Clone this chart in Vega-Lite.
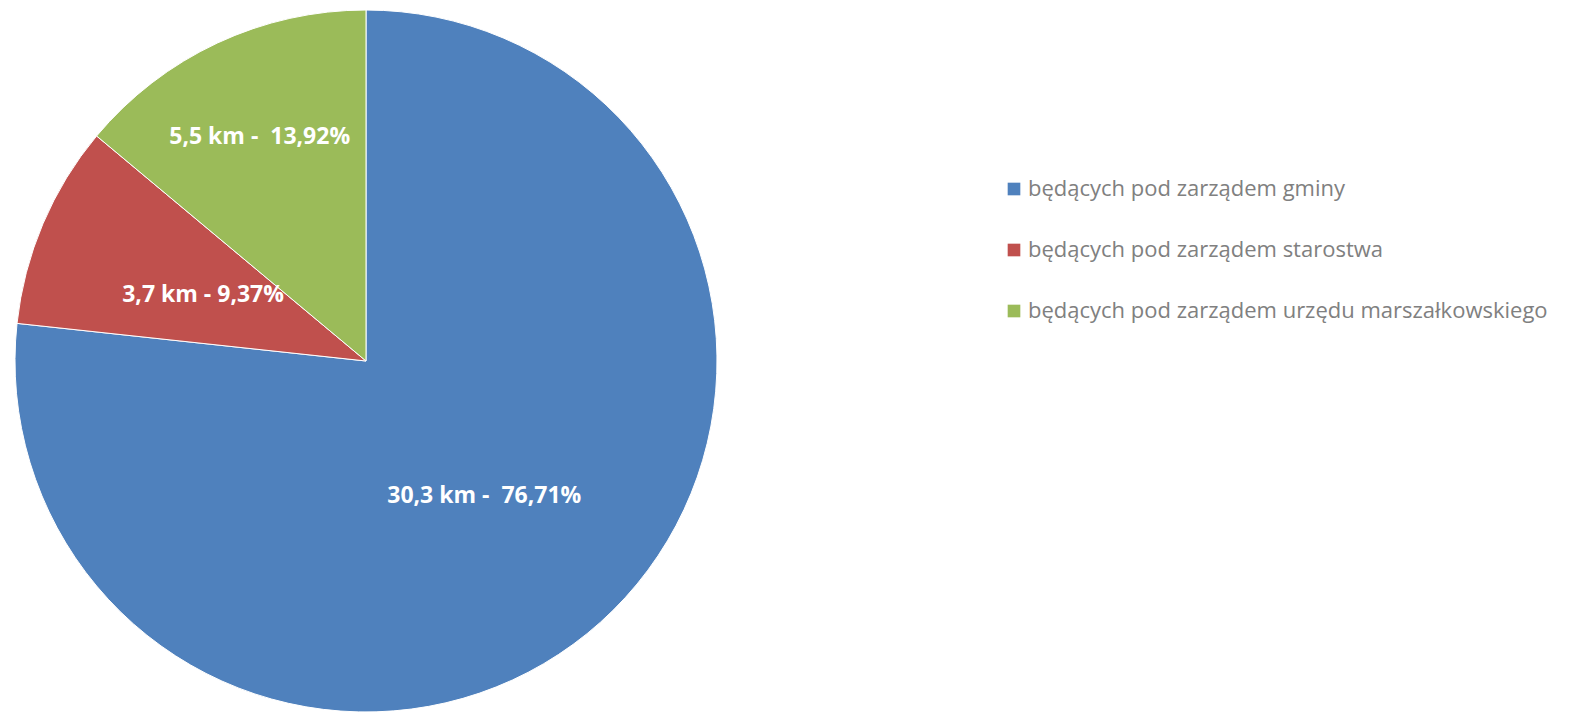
{
  "$schema": "https://vega.github.io/schema/vega-lite/v6.json",
  "width": 732,
  "height": 722,
  "padding": {"left": 0, "top": 0, "bottom": 0, "right": 847},
  "autosize": "none",
  "background": "white",
  "config": {"view": {"stroke": null}},
  "data": {"values": [
    {"kategoria": "będących pod zarządem gminy", "km": 30.3, "procent": "76,71%", "etykieta": "30,3 km - \u00a076,71%", "kolejnosc": 1},
    {"kategoria": "będących pod zarządem starostwa", "km": 3.7, "procent": "9,37%", "etykieta": "3,7 km - 9,37%", "kolejnosc": 2},
    {"kategoria": "będących pod zarządem urzędu marszałkowskiego", "km": 5.5, "procent": "13,92%", "etykieta": "5,5 km - \u00a013,92%", "kolejnosc": 3}
  ]},
  "encoding": {
    "theta": {"field": "km", "type": "quantitative", "stack": true},
    "order": {"field": "kolejnosc", "type": "quantitative"},
    "color": {
      "field": "kategoria", "type": "nominal",
      "scale": {
        "domain": ["będących pod zarządem gminy", "będących pod zarządem starostwa", "będących pod zarządem urzędu marszałkowskiego"],
        "range": ["#4F81BD", "#C0504D", "#9BBB59"]
      },
      "legend": {
        "title": null,
        "orient": "none",
        "legendX": 1003,
        "legendY": 178,
        "symbolType": "square",
        "symbolSize": 160,
        "symbolStrokeWidth": 0,
        "symbolOpacity": 1,
        "labelFont": "Open Sans",
        "labelFontSize": 22,
        "labelColor": "#808080",
        "labelLimit": 600,
        "labelOffset": 3,
        "rowPadding": 39
      }
    }
  },
  "layer": [
    {"mark": {"type": "arc", "outerRadius": 351, "stroke": "white", "strokeWidth": 1}},
    {
      "mark": {"type": "text", "radius": {"expr": "datum.kolejnosc == 3 ? 251 : 177"}, "font": "Open Sans", "fontWeight": "bold", "fontSize": 23, "fill": "white", "baseline": "middle", "align": "center", "dy": 3},
      "encoding": {"text": {"field": "etykieta"}, "color": {"value": "white"}}
    }
  ]
}
